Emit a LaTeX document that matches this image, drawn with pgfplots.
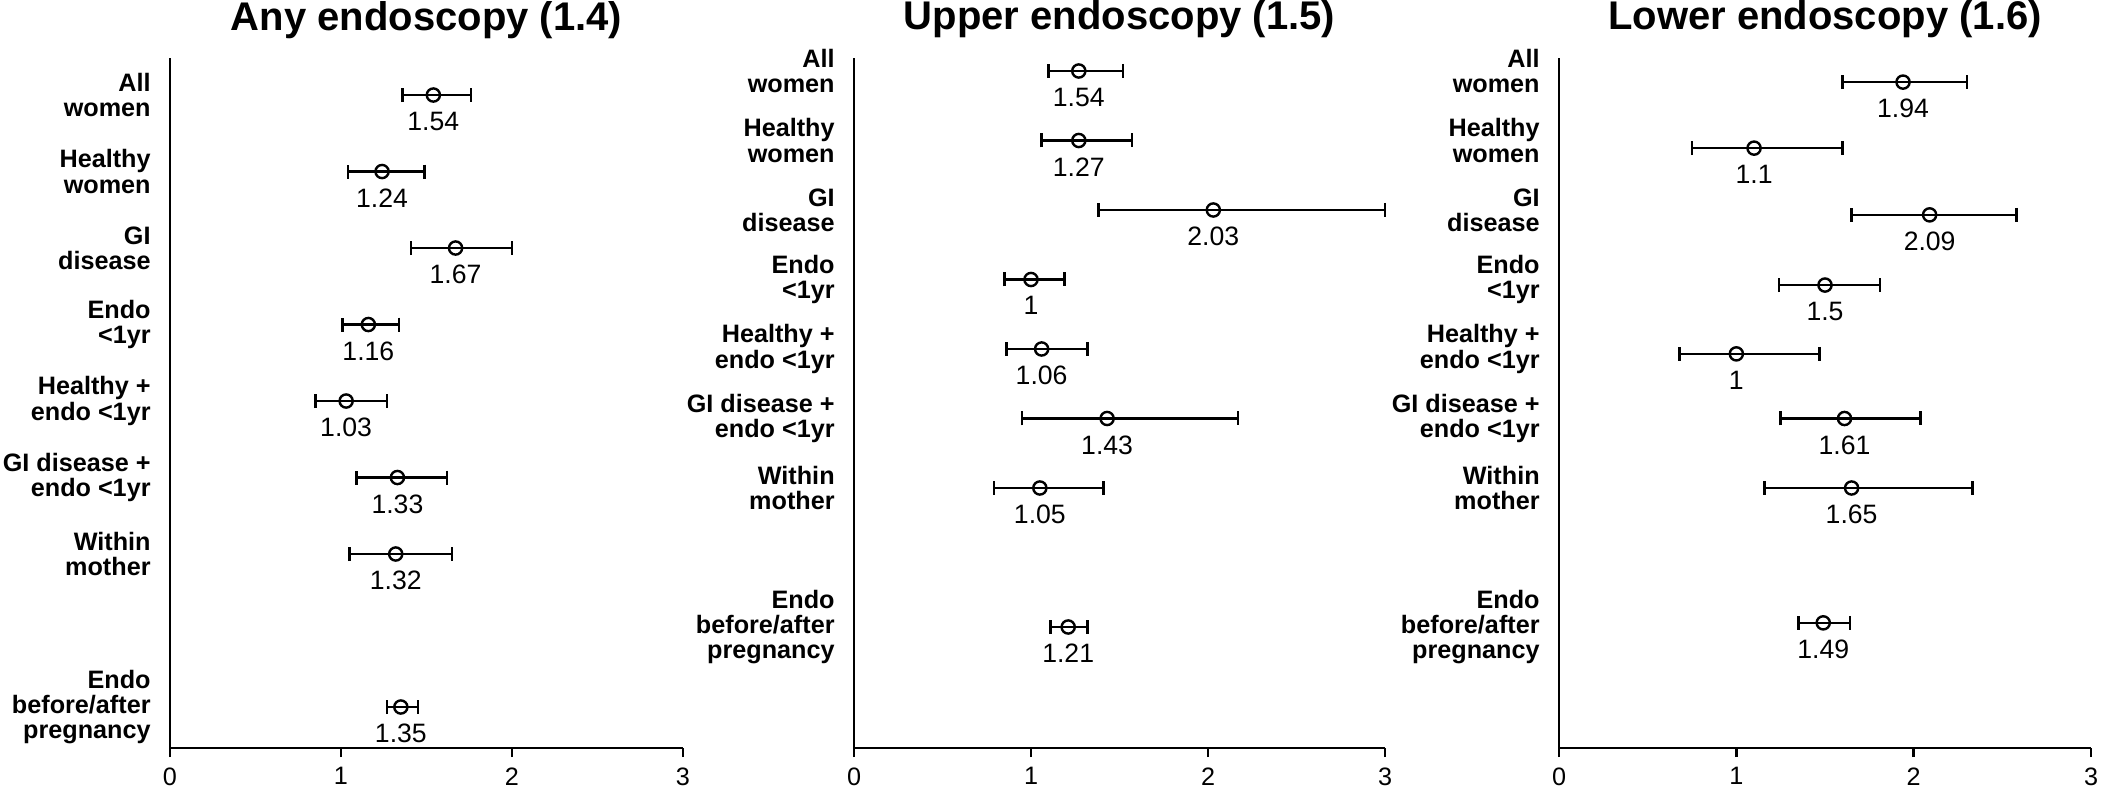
\documentclass[border=0pt]{standalone}
\usepackage{fontspec}
\setmainfont{Liberation Sans}
\usepackage{pgfplots}
\usepackage{pgfplotstable}
\pgfplotsset{compat=1.18}

\pgfplotstableread{
y x lo hi lab
8 1.54 1.36 1.76 1.54
7 1.24 1.04 1.49 1.24
6 1.67 1.41 2.00 1.67
5 1.16 1.01 1.34 1.16
4 1.03 0.85 1.27 1.03
3 1.33 1.09 1.62 1.33
2 1.32 1.05 1.65 1.32
0 1.35 1.27 1.45 1.35
}\anyendo

\pgfplotstableread{
y x lo hi lab
8 1.27 1.10 1.52 1.54
7 1.27 1.06 1.57 1.27
6 2.03 1.38 3.00 2.03
5 1.00 0.85 1.19 1
4 1.06 0.86 1.32 1.06
3 1.43 0.95 2.17 1.43
2 1.05 0.79 1.41 1.05
0 1.21 1.11 1.32 1.21
}\upperendo

\pgfplotstableread{
y x lo hi lab
7.84 1.94 1.60 2.30 1.94
6.89 1.10 0.75 1.60 1.1
5.93 2.09 1.65 2.58 2.09
4.92 1.50 1.24 1.81 1.5
3.93 1.00 0.68 1.47 1
3.00 1.61 1.25 2.04 1.61
2.00 1.65 1.16 2.33 1.65
0.06 1.49 1.35 1.64 1.49
}\lowerendo

\pgfplotsset{
  forest/.style={
    scale only axis,
    height=345pt,
    xmin=0, xmax=3,
    axis x line*=bottom,
    axis y line*=left,
    axis line style={-, line width=1.35pt},
    xtick={0,1,2,3},
    xticklabels={0,1,2,3},
    tick align=outside,
    x tick style={line width=1.35pt, black},
    major tick length=4.5pt,
    y tick style={draw=none},
    ytick={0,2,3,4,5,6,7,8},
    yticklabels={{Endo\\before/after\\pregnancy},{Within\\mother},{GI disease +\\endo <1yr},{Healthy +\\endo <1yr},{Endo\\<1yr},{GI\\disease},{Healthy\\women},{All\\women}},
    yticklabel style={font=\bfseries\fontsize{12.6}{12.6}\selectfont, align=right, inner sep=0pt, xshift=-5pt},
    xticklabel style={font=\fontsize{12.6}{13}\selectfont, inner sep=0pt, anchor=north, yshift=-5pt},
    title style={font=\bfseries\fontsize{20}{22}\selectfont, at={(0.5,1)}, anchor=base, yshift=8pt},
    clip=false,
  },
  ci/.style={
    only marks, black,
    mark=o, mark size=3.3pt,
    mark options={line width=1.2pt, black},
    error bars/x dir=both,
    error bars/x explicit,
    error bars/error mark=|,
    error bars/error bar style={line width=1.3pt, black, solid},
    error bars/error mark options={line width=1.3pt, black, mark size=3.5pt},
  },
  vals/.style={
    nodes near coords,
    point meta=explicit symbolic,
    nodes near coords align={below},
    every node near coord/.append style={inner sep=0pt, yshift=-8pt, font=\fontsize{13.3}{14}\selectfont, black},
  },
}

\begin{document}
\begin{tikzpicture}
\path[use as bounding box] (0,0) rectangle (1054pt,394pt);

\begin{axis}[forest, at={(85pt,20pt)}, anchor=south west, width=256.5pt,
  ymin=-0.536, ymax=8.484, title={Any endoscopy (1.4)}]
\addplot+[ci, vals] table[x=x, y=y, meta=lab,
  x error plus expr=\thisrow{hi}-\thisrow{x},
  x error minus expr=\thisrow{x}-\thisrow{lo}] {\anyendo};
\end{axis}

\begin{axis}[forest, at={(427pt,20pt)}, anchor=south west, width=265.5pt,
  ymin=-1.741, ymax=8.187, title={Upper endoscopy (1.5)}]
\addplot+[ci, vals] table[x=x, y=y, meta=lab,
  x error plus expr=\thisrow{hi}-\thisrow{x},
  x error minus expr=\thisrow{x}-\thisrow{lo}] {\upperendo};
\end{axis}

\begin{axis}[forest, at={(779.5pt,20pt)}, anchor=south west, width=266pt,
  ymin=-1.741, ymax=8.187, title={Lower endoscopy (1.6)}]
\addplot+[ci, vals] table[x=x, y=y, meta=lab,
  x error plus expr=\thisrow{hi}-\thisrow{x},
  x error minus expr=\thisrow{x}-\thisrow{lo}] {\lowerendo};
\end{axis}
\end{tikzpicture}
\end{document}
